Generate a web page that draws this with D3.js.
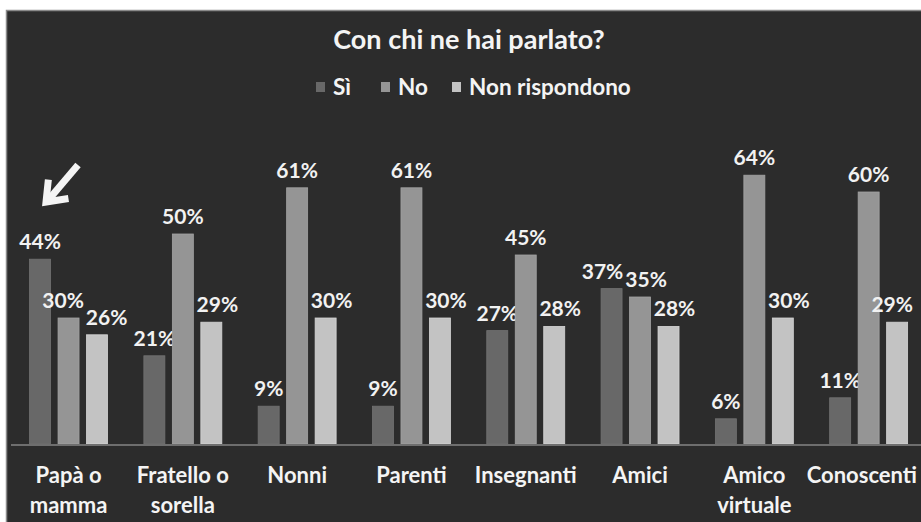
<!DOCTYPE html>
<html>
<head>
<meta charset="utf-8">
<script src="https://cdn.jsdelivr.net/npm/d3@7"></script>
<style>
  html, body { margin: 0; padding: 0; background: #ffffff; }
  svg { display: block; }
  text { font-family: Lato, "Open Sans", sans-serif; font-weight: 700; }
</style>
</head>
<body>
<svg id="chart" width="921" height="522"></svg>
<script>
// Categories (line breaks marked with "\n")
const categories = ["Papà o\nmamma", "Fratello o\nsorella", "Nonni", "Parenti",
                    "Insegnanti", "Amici", "Amico\nvirtuale", "Conoscenti"];
const seriesNames = ["Sì", "No", "Non rispondono"];
const siValues = [44, 21, 9, 9, 27, 37, 6, 11];
const noValues = [30, 50, 61, 61, 45, 35, 64, 60];
const nrValues = [26, 29, 30, 30, 28, 28, 30, 29];
const seriesColors = ["#686868", "#959595", "#c3c3c3"];
const title = "Con chi ne hai parlato?";

const series = [siValues, noValues, nrValues];
const svg = d3.select("#chart");
const W = 921, H = 522;

// keep a text's right edge inside the drawing area
function keepInside(sel, margin) {
  const b = sel.node().getBBox();
  const over = b.x + b.width - (W - margin);
  if (over > 0) {
    sel.attr("x", +sel.attr("x") - over);
    sel.selectAll("tspan").attr("x", function() { return +d3.select(this).attr("x") - over; });
  }
}

// Panel
svg.append("rect")
  .attr("x", 6.5).attr("y", 10.5)
  .attr("width", W + 10).attr("height", H + 10)
  .attr("fill", "#2c2c2c")
  .attr("stroke", "#8a8a8a").attr("stroke-width", 1.5);

const baseY = 444;
const x = d3.scaleBand().domain(categories)
  .range([11.4, 925.8]).paddingInner(0.318).paddingOuter(0.159);
const xs = d3.scaleBand().domain(seriesNames)
  .range([0, x.bandwidth()]).paddingInner(0.263).paddingOuter(0);
const y = d3.scaleLinear().domain([0, 70]).range([baseY, baseY - 294]);

// Title
svg.append("text")
  .attr("x", 469).attr("y", 49)
  .attr("text-anchor", "middle")
  .attr("fill", "#f4f4f4")
  .attr("font-size", 27)
  .text(title);

// Legend
const legendX = [316, 381, 452];
seriesNames.forEach((name, i) => {
  const g = svg.append("g").attr("transform", `translate(${legendX[i]},0)`);
  g.append("rect").attr("x", 0).attr("y", 82).attr("width", 9).attr("height", 10)
    .attr("fill", seriesColors[i]);
  g.append("text").attr("x", 17).attr("y", 95)
    .attr("fill", "#f4f4f4").attr("font-size", 22.5).text(name);
});

// Bars and value labels
const groups = svg.append("g").selectAll("g")
  .data(categories).join("g")
  .attr("transform", d => `translate(${x(d)},0)`);

groups.each(function(cat, ci) {
  const g = d3.select(this);
  const gx = x(cat);
  const labels = [];
  seriesNames.forEach((name, si) => {
    const v = series[si][ci];
    g.append("rect")
      .attr("x", xs(name)).attr("y", y(v))
      .attr("width", xs.bandwidth()).attr("height", baseY - y(v))
      .attr("fill", seriesColors[si])
      .attr("stroke", d3.color(seriesColors[si]).brighter(0.25))
      .attr("stroke-width", 0.8);
    const t = g.append("text")
      .attr("x", xs(name) + xs.bandwidth() / 2 + (si === 2 ? 6 : 0))
      .attr("y", y(v) - 10)
      .attr("text-anchor", "middle")
      .attr("fill", "#f2f2f2")
      .attr("font-size", 21)
      .text(v + "%");
    labels.push(t);
  });
  // push neighbouring labels apart when they collide
  for (let i = 0; i < labels.length - 1; i++) {
    const a = labels[i].node().getBBox(), b = labels[i + 1].node().getBBox();
    const vOverlap = a.y < b.y + b.height - 3 && b.y < a.y + a.height - 3;
    const hOverlap = a.x + a.width + 2 - b.x;
    if (vOverlap && hOverlap > 0) {
      labels[i].attr("x", +labels[i].attr("x") - hOverlap * 0.6);
      labels[i + 1].attr("x", +labels[i + 1].attr("x") + hOverlap * 0.4);
    }
  }
  // labels near the right edge stay inside
  labels.forEach(t => {
    const b = t.node().getBBox();
    const over = gx + b.x + b.width - (W - 8);
    if (over > 0) t.attr("x", +t.attr("x") - over);
  });
});

// Baseline
svg.append("line")
  .attr("x1", 11).attr("x2", W).attr("y1", baseY + 1).attr("y2", baseY + 1)
  .attr("stroke", "#6e6e6e").attr("stroke-width", 2);

// Category labels
categories.forEach(cat => {
  const lines = cat.split("\n");
  const cx = x(cat) + x.bandwidth() / 2;
  const t = svg.append("text")
    .attr("x", cx).attr("y", 483)
    .attr("text-anchor", "middle")
    .attr("fill", "#f4f4f4")
    .attr("font-size", 22);
  lines.forEach((ln, li) => {
    t.append("tspan").attr("x", cx).attr("dy", li === 0 ? 0 : 30).text(ln);
  });
  keepInside(t, 4);
});

// Pointer arrow toward the first group
svg.append("path")
  .attr("d", "M78,165 L50,198")
  .attr("stroke", "#f4f4f4").attr("stroke-width", 7).attr("fill", "none");
svg.append("path")
  .attr("d", "M48,183 L46,202 L65,199")
  .attr("stroke", "#f4f4f4").attr("stroke-width", 7).attr("fill", "none")
  .attr("stroke-linejoin", "miter").attr("stroke-linecap", "square");
</script>
</body>
</html>
